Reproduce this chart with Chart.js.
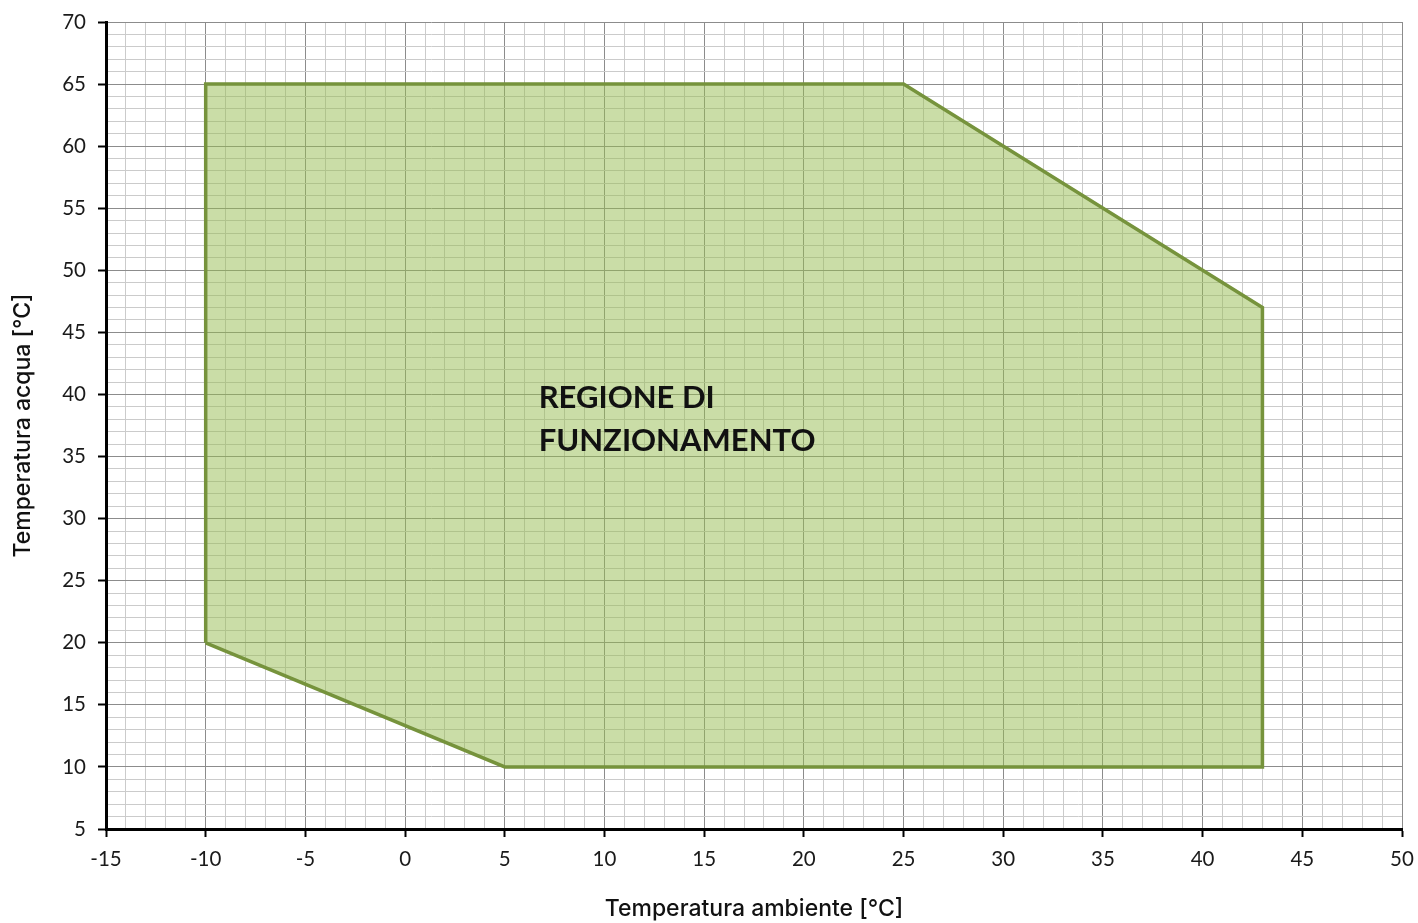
<!DOCTYPE html>
<html>
<head>
<meta charset="utf-8">
<script src="https://cdn.jsdelivr.net/npm/chart.js@4/dist/chart.umd.min.js"></script>
<style>
  html, body { margin: 0; padding: 0; background: #ffffff; }
  #wrap { width: 1418px; height: 923px; position: relative; }
</style>
</head>
<body>
<div id="wrap"><canvas id="c" width="1418" height="923"></canvas></div>
<script>
// Operating envelope (Temperatura ambiente, Temperatura acqua)
const envelopeX = [-10, -10, 25, 43, 43, 5, -10];
const envelopeY = [20, 65, 65, 47, 10, 10, 20];

const xTitle = 'Temperatura ambiente [°C]';
const yTitle = 'Temperatura acqua [°C]';
const regionLabel = ['REGIONE DI', 'FUNZIONAMENTO'];

const xRange = [-15, 50];
const yRange = [5, 70];
const majorStep = 5;
const minorStep = 1;

// annotation anchor (data coordinates)
const labelAnchorX = 6.7;
const labelAnchorY = [38.9, 35.45];

const MAJOR = '#8c8c8c';
const MINOR = '#cbcbcb';

const isMajor = v => Math.abs(v % majorStep) < 1e-9;

const annotationPlugin = {
  id: 'regionLabel',
  afterDatasetsDraw(chart) {
    const { ctx, scales } = chart;
    ctx.save();
    ctx.font = 'bold 31px Lato';
    ctx.fillStyle = '#111111';
    ctx.textBaseline = 'alphabetic';
    ctx.textAlign = 'left';
    regionLabel.forEach((t, i) => {
      const x = scales.x.getPixelForValue(labelAnchorX);
      const y = scales.y.getPixelForValue(labelAnchorY[i]);
      ctx.fillText(t, x, y);
    });
    ctx.restore();
  }
};

const gridOpts = {
  color: c => isMajor(c.tick.value) ? MAJOR : MINOR,
  lineWidth: 1,
  drawTicks: true,
  tickLength: 8,
  tickWidth: 2,
  tickColor: c => isMajor(c.tick.value) ? '#000000' : 'rgba(0,0,0,0)'
};

new Chart(document.getElementById('c'), {
  type: 'scatter',
  data: {
    datasets: [{
      data: envelopeX.map((x, i) => ({ x, y: envelopeY[i] })),
      showLine: true,
      fill: 'shape',
      backgroundColor: 'rgba(150,187,80,0.5)',
      borderColor: '#76933c',
      borderWidth: 3.5,
      pointRadius: 0,
      tension: 0
    }]
  },
  options: {
    responsive: false,
    animation: false,
    layout: { padding: { top: 22, right: 16, left: 0, bottom: 0 } },
    plugins: { legend: { display: false }, tooltip: { enabled: false } },
    scales: {
      x: {
        type: 'linear',
        min: xRange[0], max: xRange[1],
        afterFit: s => { s.height = 94; s.paddingRight = 0; s.paddingLeft = 0; },
        ticks: {
          stepSize: minorStep, autoSkip: false, maxRotation: 0,
          padding: 10,
          color: '#1a1a1a',
          font: { family: 'Lato', size: 20.5 },
          callback: v => isMajor(v) ? String(v) : ''
        },
        grid: gridOpts,
        border: { display: true, color: '#000000', width: 3 },
        title: {
          display: true, text: xTitle, color: '#111111',
          font: { family: 'Inter', size: 23, weight: 500 },
          padding: { top: 0, bottom: 0 }
        }
      },
      y: {
        type: 'linear',
        min: yRange[0], max: yRange[1],
        afterFit: s => { s.width = 106; s.paddingTop = 0; s.paddingBottom = 0; },
        ticks: {
          stepSize: minorStep, autoSkip: false,
          padding: 12,
          color: '#1a1a1a',
          font: { family: 'Lato', size: 20.5 },
          callback: v => isMajor(v) ? String(v) : ''
        },
        grid: gridOpts,
        border: { display: true, color: '#000000', width: 3 },
        title: {
          display: true, text: yTitle, color: '#111111',
          font: { family: 'Inter', size: 23, weight: 500 },
          padding: { top: 9, bottom: 0 }
        }
      }
    }
  },
  plugins: [annotationPlugin]
});
</script>
</body>
</html>
